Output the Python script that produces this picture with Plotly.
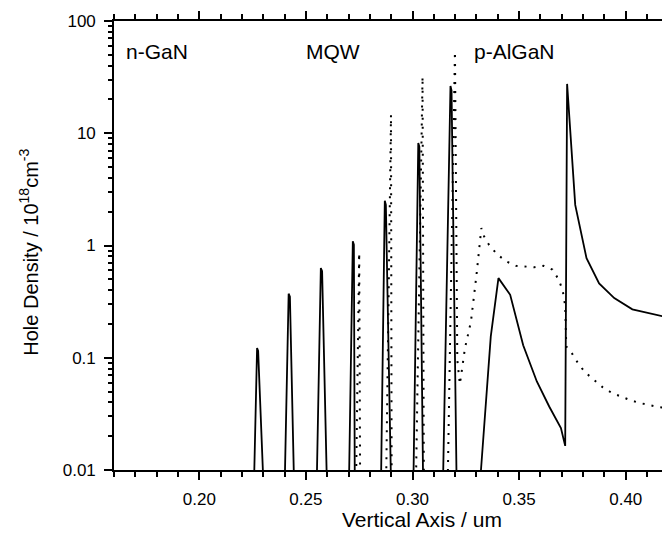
import plotly.graph_objects as go

# ---- data (vertical position in um, hole density in 1e18 cm^-3) ----
solid_x = [0.1600, 0.2200,
           0.2258, 0.2271, 0.2276, 0.2292, 0.2340,
           0.2402, 0.2419, 0.2425, 0.2443, 0.2490,
           0.2552, 0.2570, 0.2576, 0.2597, 0.2640,
           0.2703, 0.2720, 0.2725, 0.2729, 0.2790,
           0.2853, 0.2870, 0.2875, 0.2898, 0.2950,
           0.3005, 0.3027, 0.3032, 0.3049, 0.3100,
           0.3144, 0.3178, 0.3183, 0.3206, 0.3260,
           0.3321, 0.3367, 0.3403, 0.3458, 0.3519, 0.3583, 0.3641, 0.3696, 0.3716,
           0.3725, 0.3763, 0.3816, 0.3875, 0.3946, 0.4031, 0.4157, 0.4200]
solid_y = [1e-4, 1e-4,
           0.01, 0.122, 0.115, 0.01, 1e-4,
           0.01, 0.372, 0.35, 0.01, 1e-4,
           0.01, 0.63, 0.59, 0.01, 1e-4,
           0.01, 1.09, 1.02, 0.01, 1e-4,
           0.01, 2.5, 2.3, 0.01, 1e-4,
           0.01, 8.2, 7.6, 0.01, 1e-4,
           0.01, 26.4, 24.0, 0.01, 1e-4,
           0.01, 0.155, 0.512, 0.364, 0.129, 0.0615, 0.0368, 0.0236, 0.0164,
           27.5, 2.3, 0.77, 0.46, 0.34, 0.27, 0.237, 0.228]

dotted_x = [0.1600, 0.2680,
            0.2736, 0.2750, 0.2754, 0.2800,
            0.2877, 0.2899, 0.2902, 0.2950,
            0.3017, 0.3047, 0.3053, 0.3100,
            0.3166, 0.3199, 0.3210, 0.3222,
            0.3246, 0.3274, 0.3300, 0.3323, 0.3336, 0.3359, 0.3398, 0.3441, 0.3485,
            0.3528, 0.3571, 0.3614, 0.3656, 0.3685, 0.3704, 0.3716, 0.3721, 0.3747,
            0.3774, 0.3808, 0.3850, 0.3891, 0.3935, 0.3980, 0.4024, 0.4066, 0.4110,
            0.4153, 0.4200]
dotted_y = [1e-4, 1e-4,
            0.01, 0.86, 0.01, 1e-4,
            0.01, 14.6, 0.01, 1e-4,
            0.01, 32.0, 0.01, 1e-4,
            0.01, 53.4, 0.096, 0.058,
            0.122, 0.21, 0.548, 1.43, 1.2, 1.01, 0.83, 0.72, 0.66,
            0.65, 0.64, 0.66, 0.61, 0.50, 0.40, 0.29, 0.126, 0.110,
            0.091, 0.0746, 0.0633, 0.0548, 0.0485, 0.0447, 0.0417, 0.0395, 0.0376,
            0.0364, 0.0355]

region_labels = ["n-GaN", "MQW", "p-AlGaN"]
region_x = [0.1645, 0.2492, 0.3280]

y_tickvals = [0.01, 0.1, 1, 10, 100]
y_ticktext = ["0.01", "0.1", "1", "10", "100"]
y_minor = [m * 10.0 ** e for e in range(-2, 2) for m in range(2, 10)]

x_title = "Vertical Axis / um"
y_title = "Hole Density / 10<sup>18</sup>cm<sup>-3</sup>"

FONT = "Arial, Liberation Sans, sans-serif"

fig = go.Figure()
fig.add_trace(go.Scatter(x=dotted_x, y=dotted_y, mode="lines",
                         line=dict(color="black", width=2, dash="2px,7px"),
                         showlegend=False))
fig.add_trace(go.Scatter(x=solid_x, y=solid_y, mode="lines",
                         line=dict(color="black", width=1.8),
                         showlegend=False))

for t, xv in zip(region_labels, region_x):
    fig.add_annotation(x=xv, y=0.933, xref="x", yref="paper", text=t,
                       showarrow=False, xanchor="left", yanchor="middle",
                       font=dict(size=21, color="black", family=FONT))

# axis titles placed as in the original (wider) plot frame
fig.add_annotation(x=0.562, y=-0.111, xref="paper", yref="paper", text=x_title,
                   showarrow=False, xanchor="center", yanchor="middle",
                   font=dict(size=21, color="black", family=FONT))
fig.add_annotation(x=-0.156, y=0.485, xref="paper", yref="paper", text=y_title,
                   showarrow=False, xanchor="center", yanchor="middle", textangle=-90,
                   font=dict(size=20, color="black", family=FONT))

fig.update_layout(
    width=662, height=536,
    margin=dict(l=114, r=0, t=21, b=66),
    paper_bgcolor="white", plot_bgcolor="white",
    font=dict(family=FONT, color="black", size=17),
    showlegend=False,
)
fig.update_xaxes(
    range=[0.16, 0.417], showgrid=False, zeroline=False,
    showline=True, linecolor="black", linewidth=1.6, mirror="ticks",
    ticks="outside", ticklen=8, tickwidth=1.5, tickcolor="black",
    tick0=0, dtick=0.05, tickformat=".2f",
    tickfont=dict(size=17), ticklabelstandoff=5,
    minor=dict(ticks="outside", ticklen=5, tickwidth=1.5, tickcolor="black", dtick=0.01, tick0=0),
)
fig.update_yaxes(
    type="log", range=[-2, 2], showgrid=False, zeroline=False,
    showline=True, linecolor="black", linewidth=1.6, mirror=False,
    ticks="outside", ticklen=8, tickwidth=1.5, tickcolor="black",
    tickmode="array", tickvals=y_tickvals, ticktext=y_ticktext,
    tickfont=dict(size=17), ticklabelstandoff=5,
    minor=dict(ticks="outside", ticklen=4, tickwidth=1.5, tickcolor="black",
               tickmode="array", tickvals=y_minor),
)

fig.write_html("out.html")
